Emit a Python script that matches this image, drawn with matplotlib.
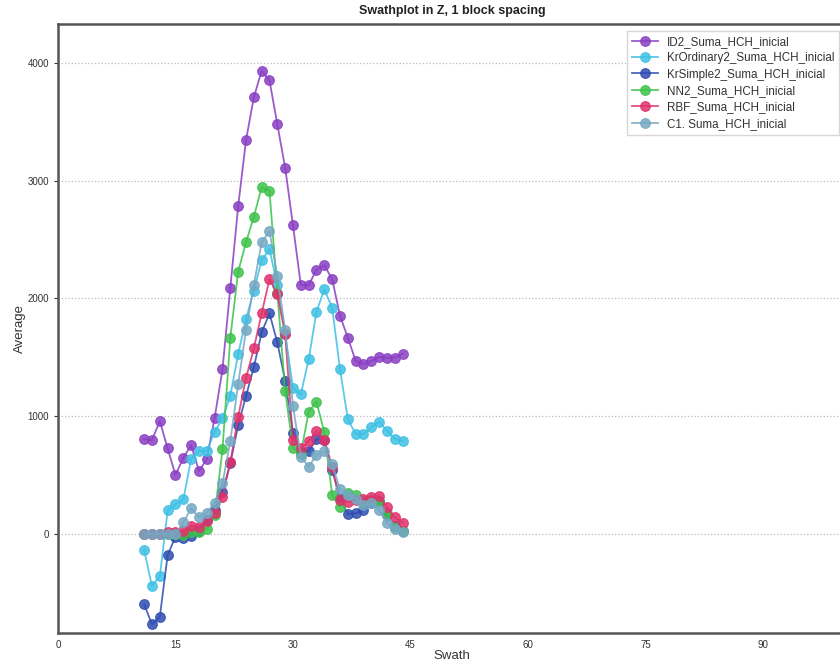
import matplotlib
matplotlib.use("Agg")
import matplotlib.pyplot as plt

plt.rcParams['font.family'] = ['Liberation Sans', 'DejaVu Sans']

swath = list(range(11, 45))

id2 = [806, 798, 959, 727, 501, 648, 755, 535, 637, 988, 1398, 2091, 2782, 3342,
       3707, 3933, 3851, 3478, 3110, 2620, 2114, 2114, 2244, 2281, 2165, 1853,
       1667, 1471, 1443, 1469, 1505, 1497, 1497, 1531]
kr_ordinary2 = [-136, -441, -357, 200, 252, 294, 639, 705, 705, 869, 982, 1174,
                1528, 1825, 2066, 2326, 2417, 2114, 1700, 1237, 1186, 1483, 1887,
                2077, 1921, 1400, 976, 849, 849, 906, 953, 877, 806, 792]
kr_simple2 = [-597, -767, -702, -178, -23, -37, -14, 30, 120, 200, 359, 600, 925,
              1172, 1415, 1712, 1873, 1627, 1302, 860, 700, 705, 804, 798, 543,
              303, 170, 176, 204, 260, 280, 160, 70, 28]
nn2 = [0, 0, 0, 0, 0, -10, 20, 20, 40, 161, 719, 1667, 2227, 2476, 2694, 2943,
       2915, 2050, 1214, 733, 680, 1038, 1123, 863, 331, 232, 351, 331, 280, 290,
       274, 180, 60, 30]
rbf = [0, 0, 0, 20, 20, 25, 71, 62, 110, 181, 317, 609, 996, 1322, 1576, 1873,
       2165, 2035, 1695, 800, 727, 789, 877, 798, 571, 289, 274, 290, 294, 317,
       323, 226, 142, 96]
c1 = [0, 0, 0, 0, 0, 99, 218, 142, 181, 266, 430, 789, 1273, 1732, 2114, 2476,
      2572, 2190, 1732, 1089, 656, 572, 671, 705, 592, 380, 331, 300, 246, 260,
      204, 96, 40, 14]

series = [
    ("ID2_Suma_HCH_inicial", id2, "#8a3fc2"),
    ("KrOrdinary2_Suma_HCH_inicial", kr_ordinary2, "#3ec0e4"),
    ("KrSimple2_Suma_HCH_inicial", kr_simple2, "#2e4cb0"),
    ("NN2_Suma_HCH_inicial", nn2, "#3cc24a"),
    ("RBF_Suma_HCH_inicial", rbf, "#e0306a"),
    ("C1. Suma_HCH_inicial", c1, "#74a8c3"),
]

fig = plt.figure(figsize=(8.4, 6.62), dpi=100)
ax = fig.add_axes([58 / 840, 29 / 662, 788 / 840, 609 / 662])

for name, vals, col in series:
    ax.plot(swath, vals, color=col, lw=1.3, alpha=0.85, marker='o',
            markersize=7, markerfacecolor=col, markeredgecolor=col,
            markeredgewidth=0.8, label=name)

ax.set_xlim(0, 100.6)
ax.set_ylim(-840, 4330)
ax.set_xticks([0, 15, 30, 45, 60, 75, 90])
ax.set_yticks([0, 1000, 2000, 3000, 4000])
ax.tick_params(axis='both', labelsize=7, colors='#333333', length=3, width=0.8)
ax.tick_params(axis='x', length=0, pad=5)
ax.yaxis.grid(True, linestyle=':', color='#bbbbbb', linewidth=0.9)
ax.set_axisbelow(True)
for sp in ax.spines.values():
    sp.set_color('#555555')
    sp.set_linewidth(1.8)

ax.set_title("Swathplot in Z, 1 block spacing", fontsize=9, fontweight='bold',
             color='#222222', pad=7)
ax.set_xlabel("Swath", fontsize=9.5, color='#333333', labelpad=0)
ax.set_ylabel("Average", fontsize=9.5, color='#333333', labelpad=1)

leg = ax.legend(loc='upper right', fontsize=8.4, frameon=True, fancybox=False,
                borderaxespad=0.6, handlelength=2.2, labelspacing=0.38)
leg.get_frame().set_edgecolor('#cccccc')
for t in leg.get_texts():
    t.set_color('#333333')

fig.savefig("out.png", dpi=100)
